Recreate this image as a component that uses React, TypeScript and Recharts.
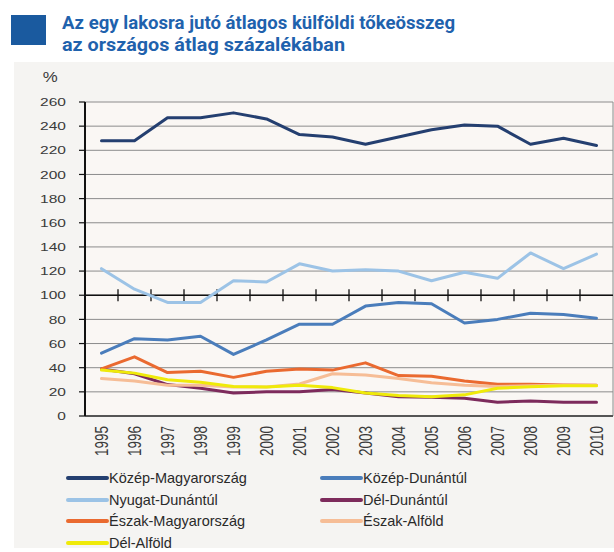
import React from 'react';
import { LineChart, Line, XAxis, YAxis, CartesianGrid, ReferenceLine } from 'recharts';

const years = ['1995', '1996', '1997', '1998', '1999', '2000', '2001', '2002', '2003', '2004', '2005', '2006', '2007', '2008', '2009', '2010'];

const kozepMagyarorszag = [228, 228, 247, 247, 251, 246, 233, 231, 225, 231, 237, 241, 240, 225, 230, 224];
const kozepDunantul = [52, 64, 63, 66, 51, 63, 76, 76, 91, 94, 93, 77, 80, 85, 84, 81];
const nyugatDunantul = [122, 105, 94, 94, 112, 111, 126, 120, 121, 120, 112, 119, 114, 135, 122, 134];
const delDunantul = [39, 35, 26, 23, 19, 20, 20, 22, 19, 16, 15.5, 14.7, 11.4, 12.5, 11.4, 11.4];
const eszakMagyarorszag = [39, 49, 36, 37, 32, 37, 39, 38, 44, 33.5, 33, 29, 26.3, 26.3, 25.7, 25.5];
const eszakAlfold = [31, 29, 25.5, 25.5, 24, 24, 26.5, 35, 34, 31, 27.5, 25.5, 24.5, 25, 25.5, 25.5];
const delAlfold = [38, 35.5, 30, 28, 24.5, 24, 25.5, 23.5, 19, 17, 16, 17.5, 23, 24.3, 25, 25];

const yTicks = [0, 20, 40, 60, 80, 100, 120, 140, 160, 180, 200, 220, 240, 260];

const titleLine1 = 'Az egy lakosra jutó átlagos külföldi tőkeösszeg';
const titleLine2 = 'az országos átlag százalékában';
const unitLabel = '%';

const series = [
  { key: 'km', name: 'Közép-Magyarország', color: '#243f70', values: kozepMagyarorszag },
  { key: 'kd', name: 'Közép-Dunántúl', color: '#4a7dbb', values: kozepDunantul },
  { key: 'nd', name: 'Nyugat-Dunántúl', color: '#9cc3e6', values: nyugatDunantul },
  { key: 'dd', name: 'Dél-Dunántúl', color: '#7d2b5c', values: delDunantul },
  { key: 'em', name: 'Észak-Magyarország', color: '#ea6a30', values: eszakMagyarorszag },
  { key: 'ea', name: 'Észak-Alföld', color: '#f6bd96', values: eszakAlfold },
  { key: 'da', name: 'Dél-Alföld', color: '#efea0a', values: delAlfold },
];

const data = years.map((y, i) => {
  const row: any = { year: y };
  series.forEach((s) => {
    row[s.key] = s.values[i];
  });
  return row;
});

const YTick = (props: any) => {
  const { x, y, payload } = props;
  return (
    <text
      transform={`translate(${x}, ${y}) scale(1.35, 1)`}
      textAnchor="end"
      dy="0.36em"
      fontFamily="Liberation Sans, Arial, sans-serif"
      fontSize={11.5}
      fill="#3a3a3a"
    >
      {payload.value}
    </text>
  );
};

const XTick = (props: any) => {
  const { x, y, payload } = props;
  return (
    <text
      transform={`translate(${x}, ${y}) scale(1.4, 1) rotate(-90)`}
      textAnchor="end"
      dy="0.36em"
      fontFamily="Liberation Sans, Arial, sans-serif"
      fontSize={13.5}
      fill="#3a3a3a"
    >
      {payload.value}
    </text>
  );
};

const MidAxis = (props: any) => {
  const { x1, y1, x2 } = props;
  const n = years.length;
  const step = (x2 - x1) / n;
  const marks = [];
  for (let i = 1; i < n; i++) {
    const tx = x1 + i * step;
    marks.push(<line key={i} x1={tx} x2={tx} y1={y1 - 6} y2={y1 + 6} stroke="#111" strokeWidth={1.3} />);
  }
  return (
    <g>
      <line x1={x1} x2={x2} y1={y1} y2={y1} stroke="#111" strokeWidth={1.6} />
      {marks}
    </g>
  );
};

export default function App() {
  return (
    <div style={{ position: 'absolute', left: 0, top: 0, width: 614, height: 552, background: '#ffffff', overflow: 'hidden' }}>
      <div style={{ position: 'absolute', left: 14, top: 62, width: 600, height: 486, background: '#f5f4f2' }} />
      <svg style={{ position: 'absolute', left: 0, top: 0 }} width={614} height={62}>
        <rect x={11} y={15} width={35} height={30} fill="#1a5a9f" />
        <text x={62} y={28.5} fontFamily="Roboto, sans-serif" fontWeight="bold" fontSize={18} fill="#1f62ad" textLength={393} lengthAdjust="spacingAndGlyphs">
          {titleLine1}
        </text>
        <text x={62} y={50.5} fontFamily="Roboto, sans-serif" fontWeight="bold" fontSize={18} fill="#1f62ad" textLength={283} lengthAdjust="spacingAndGlyphs">
          {titleLine2}
        </text>
      </svg>
      <div style={{ position: 'absolute', left: 0, top: 0 }}>
        <LineChart width={614} height={552} data={data} margin={{ top: 102, right: 1, bottom: 0, left: 0 }}>
          <CartesianGrid
            stroke="#8c8c8c"
            fill="#faf7f4"
            fillOpacity={1}
            verticalCoordinatesGenerator={({ offset }: any) => [offset.left + offset.width]}
          />
          <XAxis
            dataKey="year"
            interval={0}
            height={136}
            padding={{ left: 16.5, right: 16.5 }}
            tickLine={false}
            tickSize={6}
            tickMargin={4}
            axisLine={{ stroke: '#555', strokeWidth: 2 }}
            tick={<XTick />}
          />
          <YAxis
            width={85}
            domain={[0, 260]}
            ticks={yTicks}
            interval={0}
            tickSize={6}
            tickMargin={13}
            axisLine={{ stroke: '#111', strokeWidth: 2 }}
            tickLine={{ stroke: '#111', strokeWidth: 1.2 }}
            tick={<YTick />}
          />
          <ReferenceLine y={100} shape={(p: any) => <MidAxis {...p} />} />
          {series.map((s) => (
            <Line
              key={s.key}
              type="linear"
              dataKey={s.key}
              name={s.name}
              stroke={s.color}
              strokeWidth={3}
              dot={false}
              activeDot={false}
              strokeLinejoin="round"
              strokeLinecap="round"
              isAnimationActive={false}
            />
          ))}
        </LineChart>
      </div>
      <div style={{ position: 'absolute', left: 44, top: 69, fontFamily: 'Liberation Sans, Arial, sans-serif', fontSize: 14, color: '#3a3a3a', transform: 'scaleX(1.2)' }}>
        {unitLabel}
      </div>
      {series.map((s, i) => {
        const col = i % 2;
        const row = Math.floor(i / 2);
        const cy = 478 + row * 21.5;
        const lx = col ? 320 : 66;
        return (
          <React.Fragment key={s.key}>
            <div style={{ position: 'absolute', left: lx, top: cy - 2, width: 43, height: 4, borderRadius: 2, background: s.color }} />
            <div
              style={{
                position: 'absolute',
                left: lx + 43,
                top: cy - 9,
                height: 18,
                lineHeight: '18px',
                fontFamily: 'Liberation Sans, Arial, sans-serif',
                fontSize: 14.5,
                color: '#2a2a2a',
                whiteSpace: 'nowrap',
              }}
            >
              {s.name}
            </div>
          </React.Fragment>
        );
      })}
    </div>
  );
}
